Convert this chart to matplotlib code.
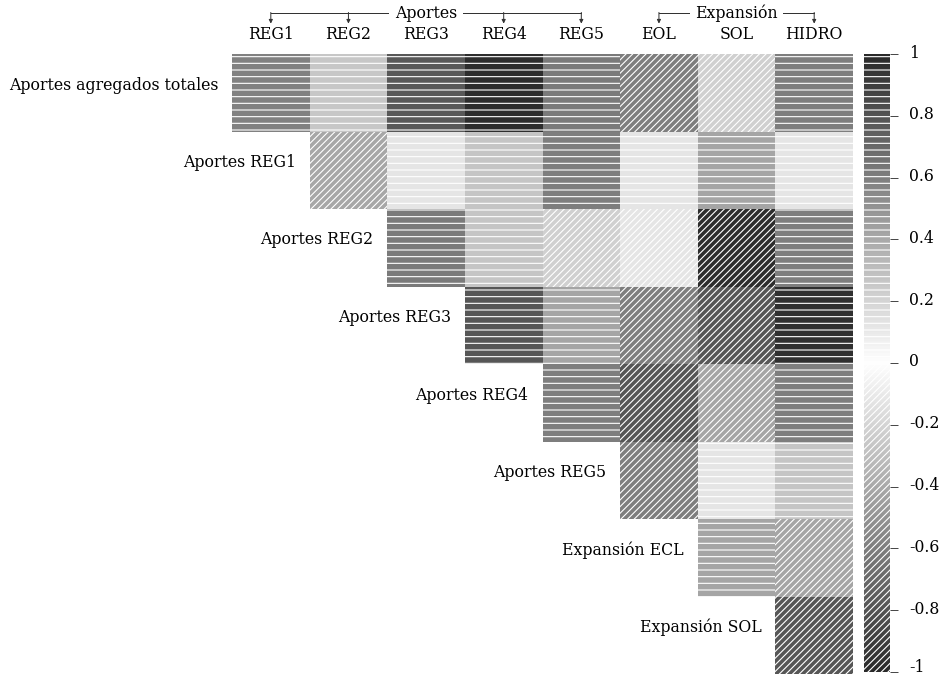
## Librerías
import numpy as np
import matplotlib.pyplot as plt
from matplotlib import colors, cm, transforms
from matplotlib.patches import Rectangle

## Datos: matriz de correlaciones (triángulo superior)
columnas = ["REG1", "REG2", "REG3", "REG4", "REG5", "EOL", "SOL", "HIDRO"]
filas = ["Aportes agregados totales", "Aportes REG1", "Aportes REG2",
         "Aportes REG3", "Aportes REG4", "Aportes REG5",
         "Expansión ECL", "Expansión SOL"]

corr_total = [0.59, 0.26, 0.78, 0.98, 0.62, -0.60, -0.22, 0.60]
corr_reg1 = [-0.41, 0.12, 0.27, 0.60, 0.12, 0.42, 0.12]
corr_reg2 = [0.62, 0.27, -0.22, -0.12, -0.98, 0.60]
corr_reg3 = [0.79, 0.42, -0.60, -0.79, 0.97]
corr_reg4 = [0.60, -0.79, -0.42, 0.60]
corr_reg5 = [-0.60, 0.12, 0.27]
corr_ecl = [0.42, -0.42]
corr_sol = [-0.79]

## Grupos de columnas
grupo_aportes = ["REG1", "REG2", "REG3", "REG4", "REG5"]
grupo_expansion = ["EOL", "SOL", "HIDRO"]

cbar_ticks = [1, 0.8, 0.6, 0.4, 0.2, 0, -0.2, -0.4, -0.6, -0.8, -1]

valores = [corr_total, corr_reg1, corr_reg2, corr_reg3,
           corr_reg4, corr_reg5, corr_ecl, corr_sol]

plt.rcParams['font.family'] = ['DejaVu Serif']
plt.rcParams['hatch.linewidth'] = 1.0
plt.rcParams['axes.unicode_minus'] = False
FS = 14.2


def gris(v):
    g = 1 - 0.84 * abs(v)
    return (g, g, g)


W, H, DPI = 946, 677, 80
fig = plt.figure(figsize=(W / DPI, H / DPI), dpi=DPI)
ax = fig.add_axes([232 / W, 3 / H, 621 / W, 620 / H])
ax.set_xlim(0, len(columnas))
ax.set_ylim(len(filas), 0)
ax.axis('off')

## Celdas: positivas con rayas horizontales, negativas con diagonales
for i, fila in enumerate(valores):
    xs = np.arange(i, i + len(fila)) + 0.5
    for x, v in zip(xs, fila):
        ax.bar(x, 1, bottom=i, width=1, color=gris(v), edgecolor='white',
               linewidth=0, hatch='--' if v >= 0 else '////')
    ax.text(i - 0.18, i + 0.4, filas[i], ha='right', va='center', fontsize=FS)

## Etiquetas de columnas y grupos
trans = transforms.blended_transform_factory(ax.transData, ax.transAxes)
for j, c in enumerate(columnas):
    ax.text(j + 0.5, 1.031, c, ha='center', va='center', fontsize=FS,
            transform=trans)

y_linea, y_punta = 1.066, 1.049
for nombre, grupo in [("Aportes", grupo_aportes), ("Expansión", grupo_expansion)]:
    idx = [columnas.index(c) for c in grupo]
    medio = idx[len(idx) // 2]
    ax.plot([idx[0] + 0.5, idx[-1] + 0.5], [y_linea, y_linea], color='#333333',
            lw=0.9, transform=trans, clip_on=False)
    for k in idx:
        if k == medio:
            continue
        ax.annotate('', xy=(k + 0.5, y_punta), xytext=(k + 0.5, y_linea + 0.001),
                    xycoords=trans, textcoords=trans,
                    arrowprops=dict(arrowstyle='-|>', color='#333333', lw=0.9,
                                    mutation_scale=7, shrinkA=0, shrinkB=0))
    ax.text(medio + 0.5, y_linea, nombre, ha='center', va='center', fontsize=FS,
            transform=trans,
            bbox=dict(facecolor='white', edgecolor='none', pad=5))

## Barra de color
cax = fig.add_axes([864 / W, 5 / H, 26 / W, 618 / H])
cmap = colors.ListedColormap([gris(v) for v in np.linspace(-1, 1, 256)])
sm = cm.ScalarMappable(norm=colors.Normalize(-1, 1), cmap=cmap)
cbar = fig.colorbar(sm, cax=cax)
cbar.outline.set_visible(False)
cax.add_patch(Rectangle((0, 0.5), 1, 0.5, transform=cax.transAxes,
                        facecolor='none', edgecolor='white', lw=0, hatch='--'))
cax.add_patch(Rectangle((0, 0), 1, 0.5, transform=cax.transAxes,
                        facecolor='none', edgecolor='white', lw=0, hatch='////'))
cbar.set_ticks(cbar_ticks)
cbar.set_ticklabels([f"{t:g}" for t in cbar_ticks])
cax.tick_params(length=7, width=0.8, pad=10, labelsize=FS, color='#333333')
for lab in cax.get_yticklabels():
    dy = 7 if lab.get_text() == '-1' else 3   # -1 queda dentro de la imagen
    lab.set_transform(lab.get_transform() +
                      transforms.ScaledTranslation(0, dy / DPI, fig.dpi_scale_trans))

plt.savefig('out.png', dpi=DPI)
